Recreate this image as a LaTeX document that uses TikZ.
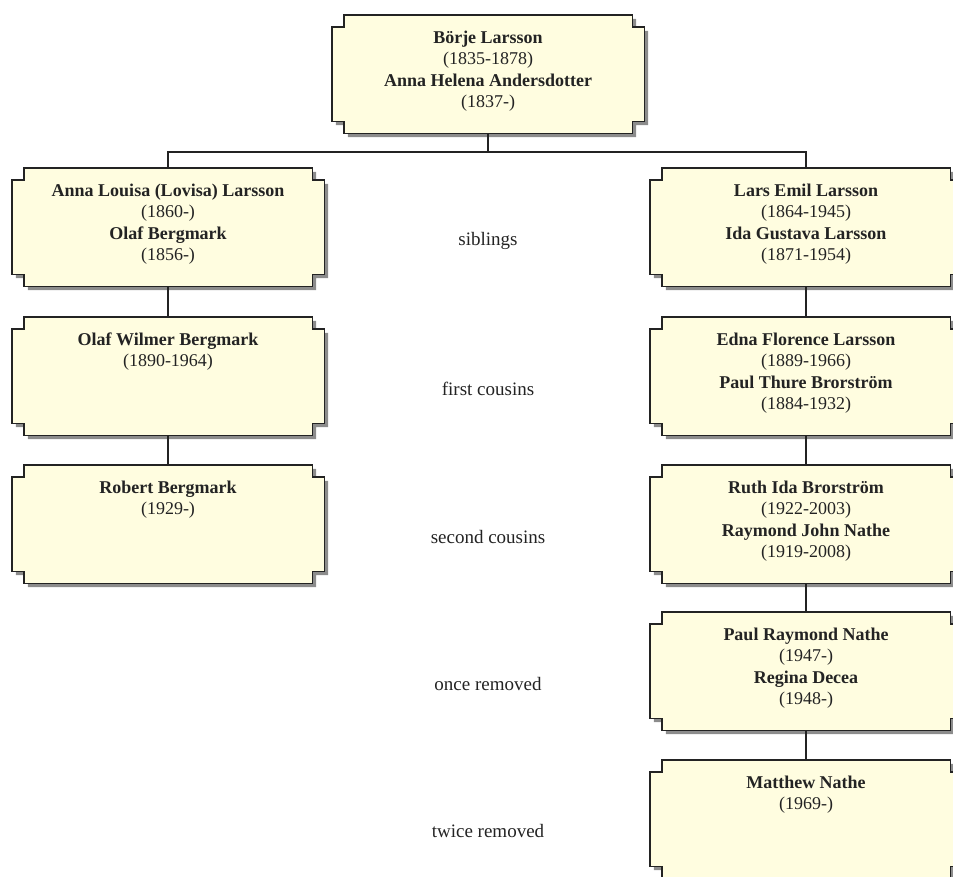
\documentclass[tikz,border=0pt]{standalone}
\usepackage{fontspec}
\setmainfont{Liberation Serif}
\usetikzlibrary{calc,backgrounds}
\definecolor{cream}{RGB}{255,253,224}
\definecolor{shade}{RGB}{140,140,140}
\definecolor{ink}{RGB}{35,35,35}
\newcommand{\who}[1]{\parbox[c][104pt][t]{304pt}{\centering\rule{0pt}{21.5pt}#1}}
\tikzset{
  person/.style={minimum width=312pt, minimum height=118pt, inner sep=0pt, text=ink,
    font=\fontsize{18}{21.3}\selectfont},
  kin/.style={text=ink, font=\fontsize{19}{22}\selectfont},
  boxline/.style={draw=ink, line width=1.4pt, fill=cream,
    preaction={fill=shade, transform canvas={shift={(4,-4)}}}},
  link/.style={draw=ink, line width=1.3pt}
}
\begin{document}
\begin{tikzpicture}[x=1pt,y=1pt]
\useasboundingbox (0,0) rectangle (953,-876);
%Family boxes
\node[person] (borje) at (488,-74) {\who{\textbf{Börje Larsson}\\(1835-1878)\\\textbf{Anna Helena Andersdotter}\\(1837-)}};
\node[person] (anna) at (168,-227) {\who{\textbf{Anna Louisa (Lovisa) Larsson}\\(1860-)\\\textbf{Olaf Bergmark}\\(1856-)}};
\node[person] (lars) at (806,-227) {\who{\textbf{Lars Emil Larsson}\\(1864-1945)\\\textbf{Ida Gustava Larsson}\\(1871-1954)}};
\node[person] (olaf) at (168,-376) {\who{\textbf{Olaf Wilmer Bergmark}\\(1890-1964)}};
\node[person] (edna) at (806,-376) {\who{\textbf{Edna Florence Larsson}\\(1889-1966)\\\textbf{Paul Thure Brorström}\\(1884-1932)}};
\node[person] (robert) at (168,-524) {\who{\textbf{Robert Bergmark}\\(1929-)}};
\node[person] (ruth) at (806,-524) {\who{\textbf{Ruth Ida Brorström}\\(1922-2003)\\\textbf{Raymond John Nathe}\\(1919-2008)}};
\node[person] (paul) at (806,-671) {\who{\textbf{Paul Raymond Nathe}\\(1947-)\\\textbf{Regina Decea}\\(1948-)}};
\node[person] (matthew) at (806,-819) {\who{\textbf{Matthew Nathe}\\(1969-)}};
%Notched frames with shadow
\begin{pgfonlayer}{background}
\foreach \n in {borje,anna,lars,olaf,edna,robert,ruth,paul,matthew}
  \path[boxline] ($(\n.north west)+(12,0)$) -- ($(\n.north east)+(-12,0)$) -- ++(0,-12) -- ++(12,0)
    -- ($(\n.south east)+(0,12)$) -- ++(-12,0) -- ++(0,-12)
    -- ($(\n.south west)+(12,0)$) -- ++(0,12) -- ++(-12,0)
    -- ($(\n.north west)+(0,-12)$) -- ++(12,0) -- cycle;
\end{pgfonlayer}
%Lines
\coordinate (fork) at (488,-152);
\draw[link] (borje.south) -- (fork);
\draw[link] (anna.north) |- (fork) -| (lars.north);
\draw[link] (anna.south) -- (olaf.north);
\draw[link] (olaf.south) -- (robert.north);
\draw[link] (lars.south) -- (edna.north);
\draw[link] (edna.south) -- (ruth.north);
\draw[link] (ruth.south) -- (paul.north);
\draw[link] (paul.south) -- (matthew.north);
%Relationship names
\node[kin] (sib) at (488,-241) {siblings};
\node[kin] (first) at (488,-389) {first cousins};
\node[kin] (second) at (488,-537) {second cousins};
\node[kin] (once) at (488,-684) {once removed};
\node[kin] (twice) at (488,-831) {twice removed};
\end{tikzpicture}
\end{document}
